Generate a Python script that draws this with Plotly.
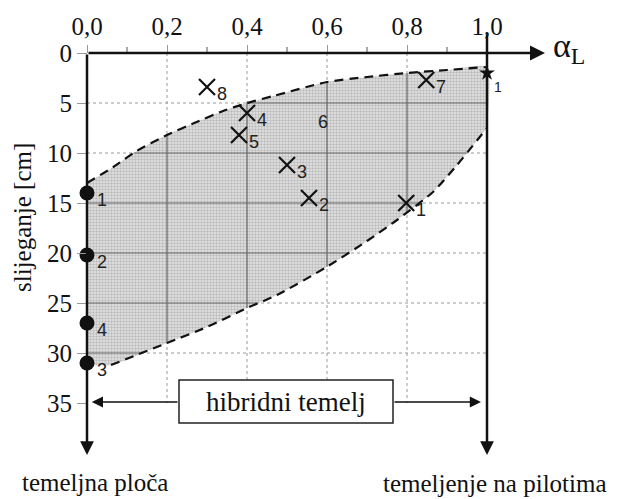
import numpy as np
import plotly.graph_objects as go

# ---------------- data ----------------
alpha_ticks = [0.0, 0.2, 0.4, 0.6, 0.8, 1.0]
alpha_ticktext = ["0,0", "0,2", "0,4", "0,6", "0,8", "1,0"]
alpha_minor = [0.1, 0.3, 0.5, 0.7, 0.9]
settle_ticks = [0, 5, 10, 15, 20, 25, 30, 35]
grid_x = [0.2, 0.4, 0.6, 0.8]
grid_y = [5, 10, 15, 20, 25, 30]

upper_x = [0.0, 0.066, 0.124, 0.2, 0.274, 0.34, 0.4, 0.466, 0.6, 0.7, 0.8, 0.9, 1.0]
upper_y = [13.0, 11.4, 9.8, 8.2, 6.9, 5.8, 5.0, 4.3, 2.9, 2.4, 2.0, 1.7, 1.4]
lower_x = [0.06, 0.2, 0.3, 0.4, 0.475, 0.595, 0.7, 0.775, 0.865, 0.925, 1.0]
lower_y = [31.2, 29.0, 27.4, 25.5, 24.2, 21.5, 18.8, 16.7, 13.9, 11.2, 7.5]

hybrid_x = [0.798, 0.555, 0.5, 0.4, 0.38, 0.848, 0.3]
hybrid_y = [15.0, 14.5, 11.2, 6.0, 8.2, 2.7, 3.4]
hybrid_labels = ["1", "2", "3", "4", "5", "7", "8"]
case6_x = [0.59]
case6_y = [6.9]
case6_label = ["6"]

raft_x = [0.0, 0.0, 0.0, 0.0]
raft_y = [14.0, 20.2, 27.0, 31.0]
raft_labels = ["1", "2", "4", "3"]

pile_x = [1.0]
pile_y = [2.0]
pile_labels = ["1"]

SERIF = "Liberation Serif"
SANS = "Liberation Sans"

# figure geometry (page body adds an 8 px offset)
W, H = 609, 491
X_RANGE = [-0.1975, 1.325]
Y_RANGE = [44.6, -4.5]
x_pos = (0 - X_RANGE[0]) / (X_RANGE[1] - X_RANGE[0])
y_pos = (Y_RANGE[0] - 0) / (Y_RANGE[0] - Y_RANGE[1])

fig = go.Figure()

# shaded region
fill_x = upper_x + [lower_x[-1]] + lower_x[::-1] + [0.0]
fill_y = upper_y + [lower_y[-1]] + lower_y[::-1] + [lower_y[0]]
fig.add_trace(go.Scatter(
    x=fill_x, y=fill_y, mode="lines", fill="toself",
    line=dict(width=0, shape="spline", smoothing=0.6), fillcolor="#dedede",
    fillpattern=dict(shape=".", size=3, solidity=0.5,
                     fgcolor="#909090", bgcolor="#e6e6e6"),
    hoverinfo="skip", showlegend=False))

# solid grid segments inside the shaded region
uy_inc = upper_y[::-1]
ux_inc = upper_x[::-1]
ly_inc = lower_y[::-1]
lx_inc = lower_x[::-1]
seg_x, seg_y = [], []
for gx in grid_x:
    top = float(np.interp(gx, upper_x, upper_y))
    bot = float(np.interp(gx, lower_x, lower_y))
    seg_x += [gx, gx, None]
    seg_y += [top, bot, None]
for gy in grid_y:
    left = 0.0 if gy >= upper_y[0] else float(np.interp(gy, uy_inc, ux_inc))
    right = 1.0 if gy <= lower_y[-1] else float(np.interp(gy, ly_inc, lx_inc))
    seg_x += [left, right, None]
    seg_y += [gy, gy, None]
fig.add_trace(go.Scatter(x=seg_x, y=seg_y, mode="lines",
                         line=dict(color="#666", width=1.2),
                         hoverinfo="skip", showlegend=False))

# dashed boundaries
for bx, by in [(upper_x, upper_y), (lower_x, lower_y)]:
    fig.add_trace(go.Scatter(x=bx, y=by, mode="lines",
                             line=dict(color="#111", width=2.2, dash="9px,6px",
                                       shape="spline", smoothing=0.6),
                             hoverinfo="skip", showlegend=False))

# markers
fig.add_trace(go.Scatter(x=hybrid_x, y=hybrid_y, mode="markers",
                         marker=dict(symbol="x-thin", size=16,
                                     line=dict(width=2.2, color="#111")),
                         hoverinfo="skip", showlegend=False))
fig.add_trace(go.Scatter(x=raft_x, y=raft_y, mode="markers",
                         marker=dict(symbol="circle", size=15, color="#111"),
                         hoverinfo="skip", showlegend=False))
fig.add_trace(go.Scatter(x=pile_x, y=pile_y, mode="markers",
                         marker=dict(symbol="star", size=12, color="#111"),
                         hoverinfo="skip", showlegend=False))

annotations = []
for xs, ys, labs in [(hybrid_x, hybrid_y, hybrid_labels), (raft_x, raft_y, raft_labels)]:
    for x, y, t in zip(xs, ys, labs):
        annotations.append(dict(x=x, y=y, text=t, showarrow=False,
                                xshift=15, yshift=-7,
                                font=dict(family=SANS, size=18, color="#222")))
for x, y, t in zip(case6_x, case6_y, case6_label):
    annotations.append(dict(x=x, y=y, text=t, showarrow=False,
                            font=dict(family=SANS, size=18, color="#222")))
for x, y, t in zip(pile_x, pile_y, pile_labels):
    annotations.append(dict(x=x, y=y, text=t, showarrow=False,
                            xshift=11, yshift=-14,
                            font=dict(family=SANS, size=14, color="#222")))

shapes = []
# dotted grid
for gx in grid_x:
    shapes.append(dict(type="line", x0=gx, x1=gx, y0=0, y1=35, layer="below",
                       line=dict(color="#9a9a9a", width=1, dash="dot")))
for gy in grid_y:
    shapes.append(dict(type="line", x0=0, x1=1.0, y0=gy, y1=gy, layer="below",
                       line=dict(color="#9a9a9a", width=1, dash="dot")))
# minor ticks on top axis
for mx in alpha_minor:
    shapes.append(dict(type="line", x0=mx, x1=mx, y0=0, y1=-0.6, layer="above",
                       line=dict(color="#555", width=1)))
# box
shapes.append(dict(type="rect", x0=0.23, x1=0.765, y0=32.7, y1=37.0,
                   fillcolor="white", layer="above",
                   line=dict(color="#222", width=1.5)))


def arrow(x0, y0, x1, y1, width, size=1.0):
    return dict(x=x1, y=y1, ax=x0, ay=y0, xref="x", yref="y", axref="x", ayref="y",
                text="", showarrow=True, arrowhead=2, arrowsize=size,
                arrowwidth=width, arrowcolor="#111")


annotations += [
    arrow(0.0, 0.0, 1.145, 0.0, 2.5, 1.2),
    arrow(0.0, 0.0, 0.0, 40.2, 2.5, 1.1),
    arrow(1.0, -2.0, 1.0, 40.2, 2.5, 1.1),
    arrow(0.23, 34.9, 0.012, 34.9, 1.6, 1.4),
    arrow(0.765, 34.9, 0.985, 34.9, 1.6, 1.4),
    dict(x=0.4975, y=34.85, text="hibridni temelj", showarrow=False,
         font=dict(family=SERIF, size=27, color="#111")),
    dict(x=1.16, y=-0.5, text="α<sub>L</sub>", showarrow=False, xanchor="left",
         font=dict(family=SERIF, size=34, color="#111")),
    dict(x=-0.1625, y=16.5, text="slijeganje [cm]", showarrow=False, textangle=-90,
         font=dict(family=SERIF, size=25, color="#111")),
    dict(x=0.02, y=42.9, text="temeljna ploča", showarrow=False,
         font=dict(family=SERIF, size=25, color="#111")),
    dict(x=1.02, y=43.0, text="temeljenje na pilotima", showarrow=False,
         font=dict(family=SERIF, size=25, color="#111")),
]

fig.update_layout(
    width=W, height=H, margin=dict(l=0, r=0, t=0, b=0),
    paper_bgcolor="white", plot_bgcolor="white", showlegend=False,
    font=dict(family=SERIF),
    xaxis=dict(range=X_RANGE, side="top", anchor="free", position=y_pos,
               tickmode="array", tickvals=alpha_ticks, ticktext=alpha_ticktext,
               ticks="outside", ticklen=8, tickcolor="#999", tickwidth=1,
               ticklabelstandoff=0,
               tickfont=dict(family=SERIF, size=25, color="#111"),
               showgrid=False, zeroline=False, showline=False),
    yaxis=dict(range=Y_RANGE, anchor="free", position=x_pos,
               tickmode="array", tickvals=settle_ticks,
               ticks="outside", ticklen=10, tickcolor="#999", tickwidth=1,
               ticklabelstandoff=0,
               tickfont=dict(family=SERIF, size=25, color="#111"),
               showgrid=False, zeroline=False, showline=False),
    shapes=shapes, annotations=annotations,
)

fig.write_html("out.html")
